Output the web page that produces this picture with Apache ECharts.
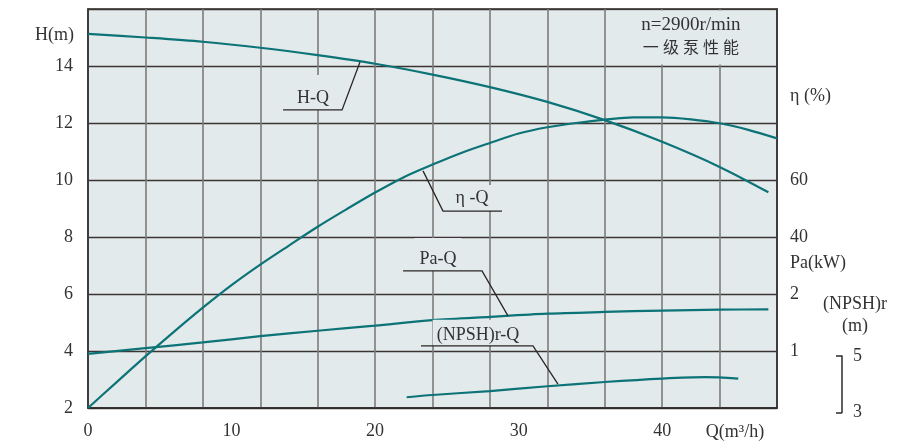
<!DOCTYPE html>
<html>
<head>
<meta charset="utf-8">
<script src="https://cdn.jsdelivr.net/npm/echarts@6/dist/echarts.min.js"></script>
<style>
  html, body { margin: 0; padding: 0; background: #ffffff; }
  #chart { width: 903px; height: 444px; }
</style>
</head>
<body>
<div id="chart"></div>
<script>
// Pump performance curves, n = 2900 r/min, single stage
const headQ   = [0, 4, 8, 12, 16, 20, 24, 28, 32, 36, 40, 44, 47.4];
const headH   = [15.13, 15.0, 14.85, 14.64, 14.38, 14.08, 13.7, 13.26, 12.74, 12.1, 11.34, 10.46, 9.57];

const effQ    = [0, 2, 4, 6, 8, 10, 12, 14, 16, 18, 20, 22, 24, 26, 28, 30, 32, 34, 36, 38, 40, 42, 44, 46, 48];
const effEta  = [-20, -10.9, -1.9, 6.8, 15.2, 23.1, 30.3, 37, 43.6, 49.7, 55.6, 61, 65.4, 69.5, 73, 76.3, 78.5, 80, 81.2, 82, 82, 81.3, 79.9, 77.6, 74.6];

const powerQ  = [0, 4, 8, 12, 16, 20, 24, 28, 32, 36, 40, 44, 47.4];
const powerPa = [0.95, 1.05, 1.15, 1.26, 1.355, 1.445, 1.54, 1.6, 1.655, 1.685, 1.71, 1.725, 1.73];

const npshQ   = [22.2, 24, 28, 32, 36, 40, 43, 45.3];
const npshR   = [3.54, 3.62, 3.76, 3.93, 4.08, 4.2, 4.25, 4.2];

const qTicks    = [0, 10, 20, 30, 40];
const hTicks    = [2, 4, 6, 8, 10, 12, 14];
const etaTicks  = [40, 60];
const paTicks   = [1, 2];
const npshTicks = [3, 5];

// curve labels with leader lines, in (Q, H) units
const curveLabels = [
  { text: 'H-Q',        at: [15.68, 12.46], pad: [14, 5, 3, 5],
    leader: [[13.59, 12.46], [17.70, 12.46], [18.95, 14.14]] },
  { text: 'η -Q',       at: [26.75, 8.91],  pad: [4, 4, 4, 4],
    leader: [[23.34, 10.32], [24.73, 8.91], [28.84, 8.91]] },
  { text: 'Pa-Q',       at: [24.38, 6.81],  pad: [12, 5, 3, 5],
    leader: [[21.95, 6.81], [27.45, 6.81], [29.26, 5.23]] },
  { text: '(NPSH)r-Q',  at: [27.17, 4.18],  pad: [6, 4, 2, 4],
    leader: [[23.2, 4.18], [31.0, 4.18], [32.74, 2.84]] }
];

const zip = (xs, ys) => xs.map((x, i) => [x, ys[i]]);
const only = list => v => (list.indexOf(v) >= 0 ? String(v) : '');

const TEAL = '#0c7377';
const INK = '#2e2a28';
const PLOT_BG = '#e3eaec';
const FONT = '"Liberation Serif", "Times New Roman", serif';
const labelStyle = { color: '#333', fontFamily: FONT, fontSize: 18 };

const chart = echarts.init(document.getElementById('chart'), null, { renderer: 'canvas' });

const curve = (name, data, xi, yi) => ({
  name, type: 'line', data, xAxisIndex: xi, yAxisIndex: yi,
  showSymbol: false, smooth: 0.3, silent: true,
  lineStyle: { color: TEAL, width: 2.2 }, z: 2
});

chart.setOption({
  animation: false,
  grid: [
    { left: 88, right: 126, top: 9, bottom: 36, show: true,
      backgroundColor: PLOT_BG, borderColor: INK, borderWidth: 1.5 },
    { left: 88, right: 126, top: 356, height: 56.5, show: false }
  ],
  xAxis: [
    { gridIndex: 0, type: 'value', min: 0, max: 48, interval: 4,
      axisLine: { show: true, onZero: false, lineStyle: { color: INK, width: 1.5 } },
      axisTick: { show: false }, axisLabel: { show: false },
      splitLine: { show: true, lineStyle: { color: '#7d7b7a', width: 1.6 } } },
    { gridIndex: 0, type: 'value', min: 0, max: 48, interval: 10, position: 'bottom',
      axisLine: { show: false, onZero: false }, axisTick: { show: false }, splitLine: { show: false },
      axisLabel: Object.assign({ margin: 14, showMaxLabel: false, formatter: only(qTicks) }, labelStyle) },
    { gridIndex: 1, type: 'value', min: 0, max: 48, show: false,
      axisLine: { onZero: false } }
  ],
  yAxis: [
    { gridIndex: 0, type: 'value', position: 'left', min: 2, max: 16, interval: 2,
      axisLine: { show: true, onZero: false, lineStyle: { color: INK, width: 1.5 } },
      axisTick: { show: false },
      axisLabel: Object.assign({ margin: 15, formatter: only(hTicks) }, labelStyle),
      splitLine: { show: true, lineStyle: { color: '#3a3533', width: 1.3 } } },
    { gridIndex: 0, type: 'value', position: 'right', min: -20, max: 120, interval: 20,
      axisLine: { show: true, onZero: false, lineStyle: { color: INK, width: 1.5 } },
      axisTick: { show: false }, splitLine: { show: false },
      axisLabel: Object.assign({ margin: 13, formatter: only(etaTicks) }, labelStyle) },
    { gridIndex: 0, type: 'value', position: 'right', min: 0, max: 7, interval: 1,
      axisLine: { show: false, onZero: false }, axisTick: { show: false }, splitLine: { show: false },
      axisLabel: Object.assign({ margin: 13, formatter: only(paTicks) }, labelStyle) },
    { gridIndex: 1, type: 'value', position: 'right', offset: 65, min: 3, max: 5, interval: 2,
      axisLine: { show: true, onZero: false, lineStyle: { color: INK, width: 1.5 } },
      axisTick: { show: true, inside: true, length: 6, lineStyle: { color: INK, width: 1.5 } },
      splitLine: { show: false },
      axisLabel: Object.assign({ margin: 11, formatter: only(npshTicks) }, labelStyle) }
  ],
  series: [
    curve('H-Q', zip(headQ, headH), 0, 0),
    curve('η-Q', zip(effQ, effEta), 0, 1),
    curve('Pa-Q', zip(powerQ, powerPa), 0, 2),
    curve('(NPSH)r-Q', zip(npshQ, npshR), 2, 3)
  ]
});

// overlay: title box, axis titles, curve labels and their leader lines
const px = p => chart.convertToPixel({ gridIndex: 0 }, p);
const graphics = [];

const boxA = px([36, 16]), boxB = px([48, 14]);
graphics.push({
  type: 'rect', z: 1, silent: true,
  shape: { x: boxA[0] + 1.5, y: boxA[1] + 1.5, width: boxB[0] - boxA[0] - 3, height: boxB[1] - boxA[1] - 3 },
  style: { fill: PLOT_BG }
});

const text = (t, x, y, align, size, extra) => Object.assign({
  type: 'text', z: 3, silent: true, x, y,
  style: Object.assign({ text: t, align: align, verticalAlign: 'middle',
    fill: '#333', font: size + 'px ' + FONT }, extra || {})
});

const mid = (boxA[0] + boxB[0]) / 2;
graphics.push(text('n=2900r/min', mid, 25, 'center', 19));
graphics.push(text('一 级 泵 性 能', mid, 49, 'center', 16,
  { font: '16px "Liberation Serif", "Noto Sans CJK SC", serif' }));

graphics.push(text('H(m)', 74, 35, 'right', 18));
graphics.push(text('η (%)', 790, 96, 'left', 18));
graphics.push(text('Pa(kW)', 790, 263, 'left', 18));
graphics.push(text('(NPSH)r', 855, 304, 'center', 18));
graphics.push(text('(m)', 855, 326, 'center', 18));
graphics.push(text('Q(m³/h)', 735, 432, 'center', 18));

curveLabels.forEach(c => {
  const p = px(c.at);
  graphics.push({
    type: 'text', z: 3, silent: true, x: p[0], y: p[1],
    style: { text: c.text, align: 'center', verticalAlign: 'bottom', fill: '#333',
      font: '18px ' + FONT, backgroundColor: PLOT_BG, padding: c.pad }
  });
  graphics.push({
    type: 'polyline', z: 4, silent: true,
    shape: { points: c.leader.map(px) },
    style: { stroke: '#2b2624', lineWidth: 1.3, fill: null }
  });
});

chart.setOption({ graphic: { elements: graphics } });
</script>
</body>
</html>
